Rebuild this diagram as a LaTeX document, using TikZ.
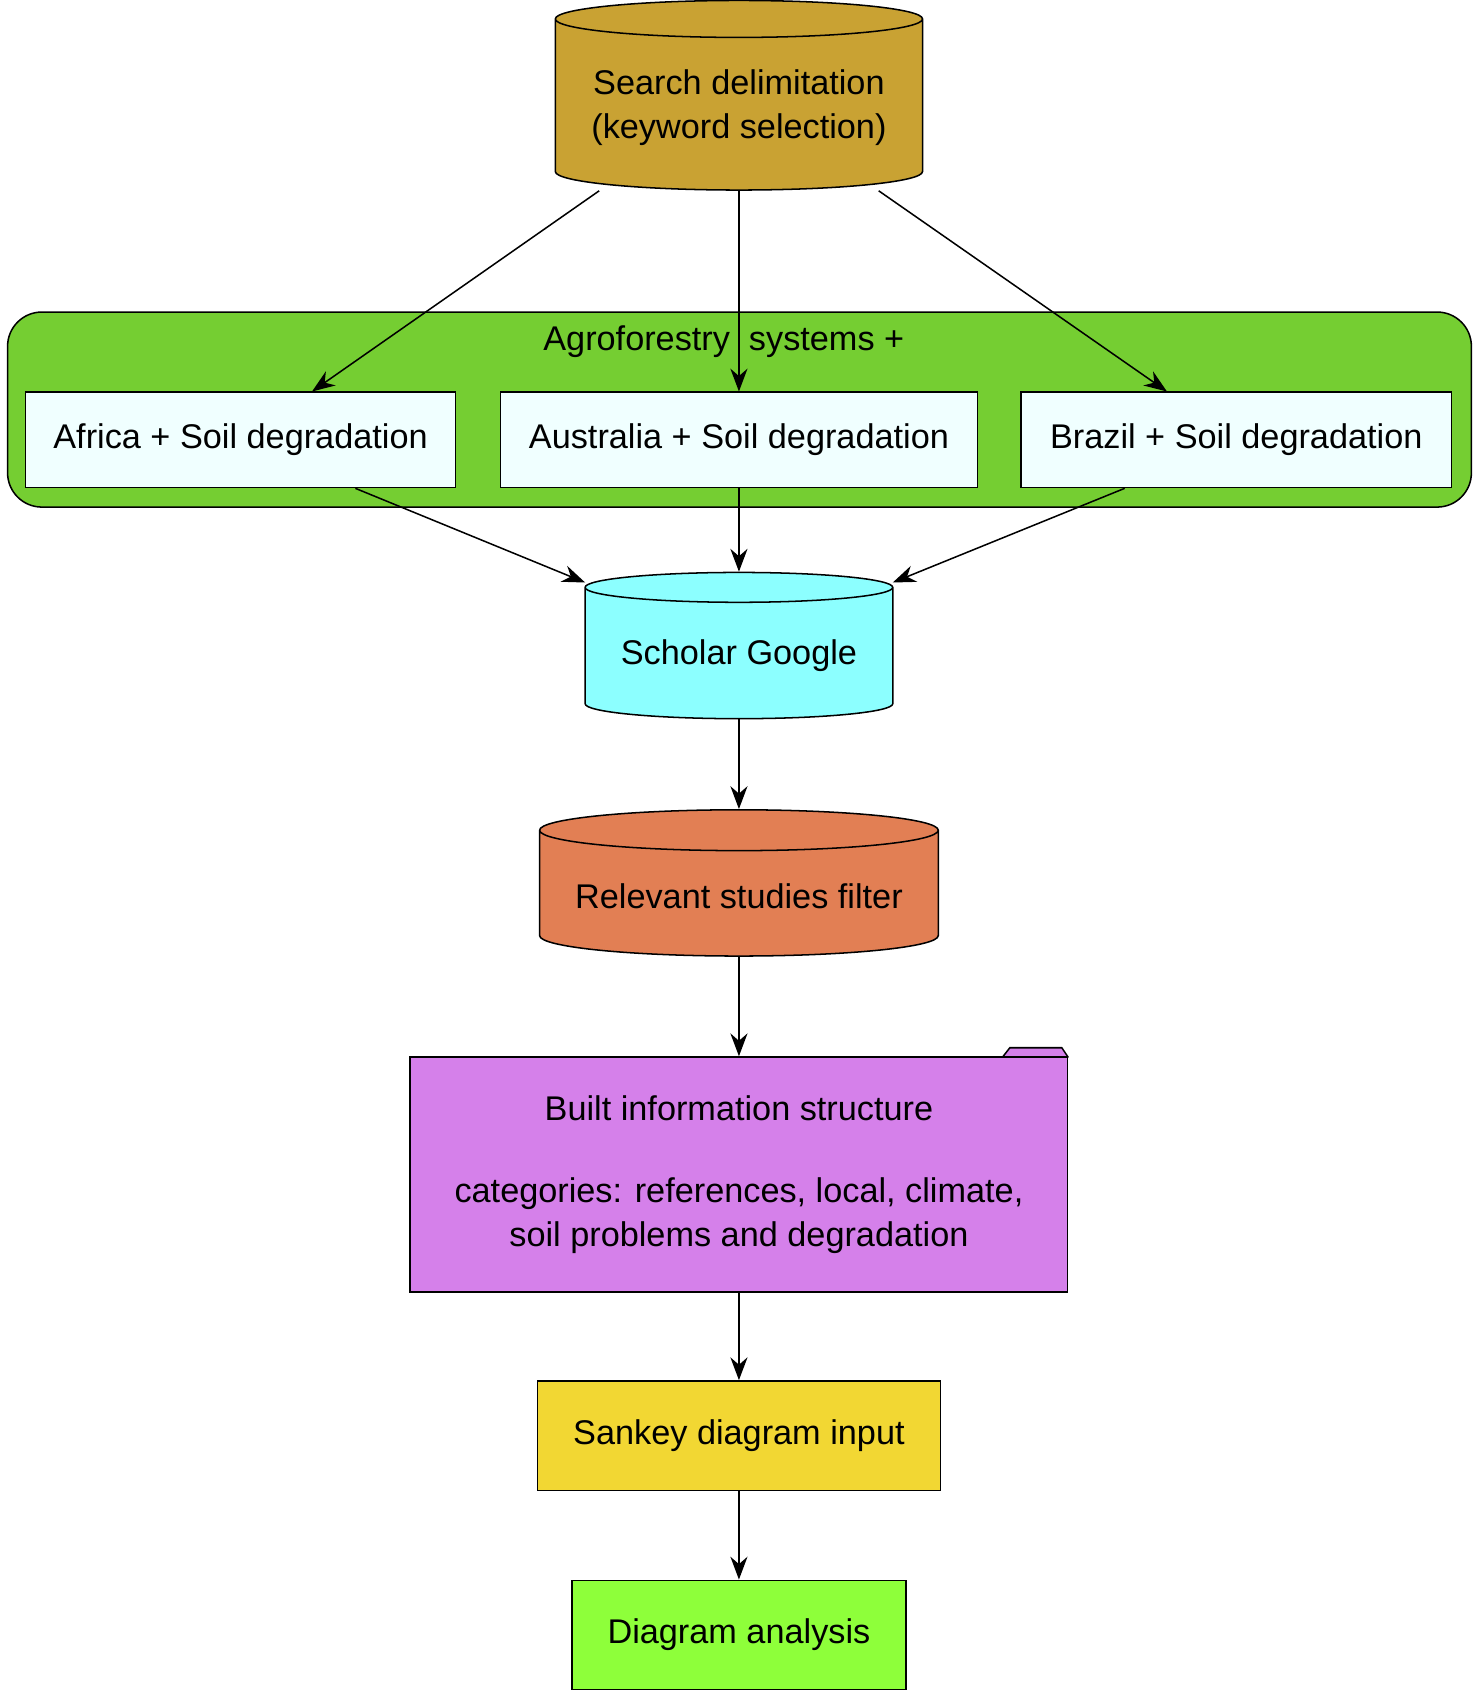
\documentclass[tikz,border=0pt]{standalone}
\usepackage{fontspec}
\setmainfont{Liberation Sans}
\usetikzlibrary{shapes.geometric,arrows.meta}
\definecolor{gold}{HTML}{C9A233}
\definecolor{grass}{HTML}{75CE32}
\definecolor{pale}{HTML}{F0FFFF}
\definecolor{cyanish}{HTML}{8CFFFF}
\definecolor{clay}{HTML}{E27F54}
\definecolor{violet}{HTML}{D580EA}
\definecolor{yell}{HTML}{F2D733}
\definecolor{lime}{HTML}{8EFF3A}
\tikzset{
  db/.style={cylinder,shape border rotate=90,aspect=0.12,draw,thick,align=center},
  box/.style={rectangle,draw,thick,align=center},
  arr/.style={-{Stealth[length=12pt,width=9pt]},thick}
}
\begin{document}
\begin{tikzpicture}[x=0.02cm,y=-0.02cm,font=\fontsize{18}{23}\selectfont]
  \useasboundingbox (0,0) rectangle (1365,1569);
  %% group
  \draw[thick,fill=grass,rounded corners=18pt] (7,288) rectangle (1358,468);
  \node (group) at (668,315) {Agroforestry\ \ systems +};
  %% cylinders
  \node[db,fill=gold,minimum width=6.78cm,minimum height=3.5cm] (search) at (682,99)
    {Search delimitation\\(keyword selection)};
  \node[db,fill=cyanish,minimum width=5.68cm,minimum height=2.7cm] (scholar) at (682,605) {Scholar Google};
  \node[db,fill=clay,minimum width=7.36cm,minimum height=2.7cm] (filter) at (682,827) {Relevant studies filter};
  %% countries
  \node[box,fill=pale,minimum width=7.94cm,minimum height=1.76cm] (africa) at (222,406) {Africa + Soil degradation};
  \node[box,fill=pale,minimum width=8.8cm,minimum height=1.76cm] (australia) at (682,406) {Australia + Soil degradation};
  \node[box,fill=pale,minimum width=7.94cm,minimum height=1.76cm] (brazil) at (1141,406) {Brazil + Soil degradation};
  %% folder
  \draw[thick,fill=violet] (925,976) -- (932,967) -- (980,967) -- (986,976);
  \node[box,fill=violet,minimum width=12.14cm,minimum height=4.34cm] (built) at (682,1084)
    {Built information structure\\[1.1em]categories: references, local, climate,\\soil problems and degradation};
  \node[box,fill=yell,minimum width=7.44cm,minimum height=2.02cm] (sankey) at (682,1325) {Sankey diagram input};
  \node[box,fill=lime,minimum width=6.16cm,minimum height=2.02cm] (analysis) at (682,1509) {Diagram analysis};
  %% arrows
  \draw[arr] ([xshift=-2.58cm]search.south) -- ([xshift=1.32cm]africa.north);
  \draw[arr] (search.south) -- (australia.north);
  \draw[arr] ([xshift=2.58cm]search.south) -- ([xshift=-1.28cm]brazil.north);
  \draw[arr] ([xshift=2.12cm]africa.south) -- ([xshift=-2.84cm,yshift=-0.2cm]scholar.north);
  \draw[arr] (australia.south) -- (scholar.north);
  \draw[arr] ([xshift=-2.06cm]brazil.south) -- ([xshift=2.84cm,yshift=-0.2cm]scholar.north);
  \draw[arr] (scholar.south) -- (filter.north);
  \draw[arr] (filter.south) -- (built.north);
  \draw[arr] (built.south) -- (sankey.north);
  \draw[arr] (sankey.south) -- (analysis.north);
\end{tikzpicture}
\end{document}
